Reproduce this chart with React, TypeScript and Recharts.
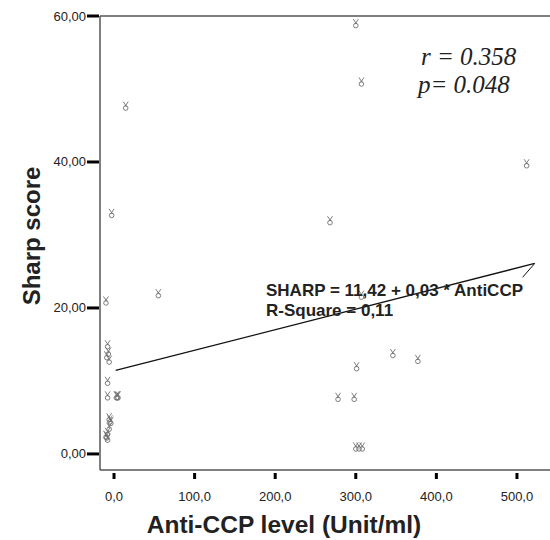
import { ScatterChart, Scatter, XAxis, YAxis, ReferenceLine } from 'recharts'

// Anti-CCP level (x) vs Sharp score (y)
const antiCcp = [
  300, 307, 14.5, -3, -10, 55, 268, 512, 307, 346, 377, 301, 278, 298, 300, 304, 308,
  -8, -7, -6, -9, -8, -8, 3, 4, 5, -6, -5, -4, -6, -8, -9, -8, -10,
]
const sharp = [
  59, 51, 47.7, 33, 21, 22, 32, 39.8, 21.8, 13.8, 13, 12, 7.8, 7.8, 1, 1, 1,
  15, 14, 12.9, 13.5, 10, 8, 8, 8, 8, 5, 4.7, 4.5, 3.7, 3, 2.5, 2.2, 2.6,
]

// fitted line SHARP = 11,42 + 0,03 * AntiCCP, and its label leader
const fitX = [2, 522]
const fitY = [11.45, 26.1]
const leaderX = [522, 507]
const leaderY = [26.1, 24.2]

const xTicks = [0, 100, 200, 300, 400, 500]
const yTicks = [0, 20, 40, 60]

const points = antiCcp.map((x, i) => ({ x, y: sharp[i] }))
const fitLine = fitX.map((x, i) => ({ x, y: fitY[i] }))
const leader = leaderX.map((x, i) => ({ x, y: leaderY[i] }))

const sans = '"Liberation Sans", Arial, sans-serif'
const serif = '"Liberation Serif", "Times New Roman", serif'

const fmtX = (v: number) => v.toFixed(1).replace('.', ',')
const fmtY = (v: number) => v.toFixed(2).replace('.', ',')

function Flower(props: any) {
  const { cx, cy } = props
  if (cx == null || cy == null) return <g />
  return (
    <g stroke="#6f6f6f" fill="none" strokeWidth={0.9}>
      <circle cx={cx} cy={cy + 2.3} r={2.3} />
      <path d={`M${cx - 2.5},${cy - 4.2} L${cx + 0.8},${cy + 0.8} M${cx + 2.5},${cy - 4.2} L${cx - 0.8},${cy + 0.8}`} />
    </g>
  )
}

const NoDot = () => <g />

function YTick(props: any) {
  const { x, y, payload } = props
  return (
    <g>
      <line x1={x - 13} x2={x - 1} y1={y} y2={y} stroke="#000" strokeWidth={3} />
      <text x={x - 14} y={y + 4.5} textAnchor="end" fontFamily={sans} fontSize={13} fill="#222">
        {fmtY(payload.value)}
      </text>
    </g>
  )
}

function XTick(props: any) {
  const { x, y, payload } = props
  return (
    <g>
      <line x1={x} x2={x} y1={y + 3} y2={y + 9} stroke="#000" strokeWidth={3} />
      <text x={x} y={y + 31} textAnchor="middle" fontFamily={sans} fontSize={13} fill="#222">
        {fmtX(payload.value)}
      </text>
    </g>
  )
}

export default function App() {
  return (
    <div style={{ position: 'absolute', left: 0, top: 0, width: 550, height: 540, overflow: 'hidden', background: '#fff' }}>
      <ScatterChart width={550} height={540} margin={{ top: 16, right: 0, bottom: 0, left: 0 }}>
        <XAxis
          type="number"
          dataKey="x"
          domain={[-17.4, 541]}
          ticks={xTicks}
          allowDataOverflow
          height={70}
          tickSize={0}
          tickMargin={0}
          tickLine={false}
          tick={<XTick />}
          axisLine={{ stroke: '#555', strokeWidth: 1.5 }}
          label={{
            content: (p: any) => (
              <text
                x={p.viewBox.x + 184}
                y={p.viewBox.y + 63}
                textAnchor="middle"
                fontFamily={sans}
                fontWeight="bold"
                fontSize={24.5}
                fill="#222"
              >
                Anti-CCP level (Unit/ml)
              </text>
            ),
          }}
        />
        <YAxis
          type="number"
          dataKey="y"
          domain={[-2.2, 60]}
          ticks={yTicks}
          allowDataOverflow
          width={100}
          tickSize={0}
          tickMargin={0}
          tickLine={false}
          tick={<YTick />}
          axisLine={{ stroke: '#555', strokeWidth: 1.5 }}
          label={{
            content: (p: any) => {
              const cx = p.viewBox.x + 31
              const cy = p.viewBox.y + 220
              return (
                <text
                  x={cx}
                  y={cy}
                  transform={`rotate(-90 ${cx} ${cy})`}
                  textAnchor="middle"
                  dominantBaseline="central"
                  fontFamily={sans}
                  fontWeight="bold"
                  fontSize={24}
                  fill="#222"
                >
                  Sharp score
                </text>
              )
            },
          }}
        />
        <ReferenceLine y={60} stroke="#555" strokeWidth={1.5} />
        <Scatter data={points} shape={<Flower />} isAnimationActive={false} />
        <Scatter data={fitLine} line={{ stroke: '#111', strokeWidth: 1.3 }} shape={<NoDot />} isAnimationActive={false} />
        <Scatter data={leader} line={{ stroke: '#111', strokeWidth: 1 }} shape={<NoDot />} isAnimationActive={false} />
      </ScatterChart>
      <svg width={550} height={540} style={{ position: 'absolute', left: 0, top: 0, pointerEvents: 'none' }}>
        <text x={421} y={65} fontFamily={serif} fontStyle="italic" fontSize={25} fill="#222">
          r = 0.358
        </text>
        <text x={418} y={93} fontFamily={serif} fontStyle="italic" fontSize={25} fill="#222">
          p= 0.048
        </text>
        <text x={266} y={296} fontFamily={sans} fontWeight="bold" fontSize={17} fill="#222">
          SHARP = 11,42 + 0,03 * AntiCCP
        </text>
        <text x={266} y={316} fontFamily={sans} fontWeight="bold" fontSize={17} fill="#222">
          R-Square = 0,11
        </text>
      </svg>
    </div>
  )
}
